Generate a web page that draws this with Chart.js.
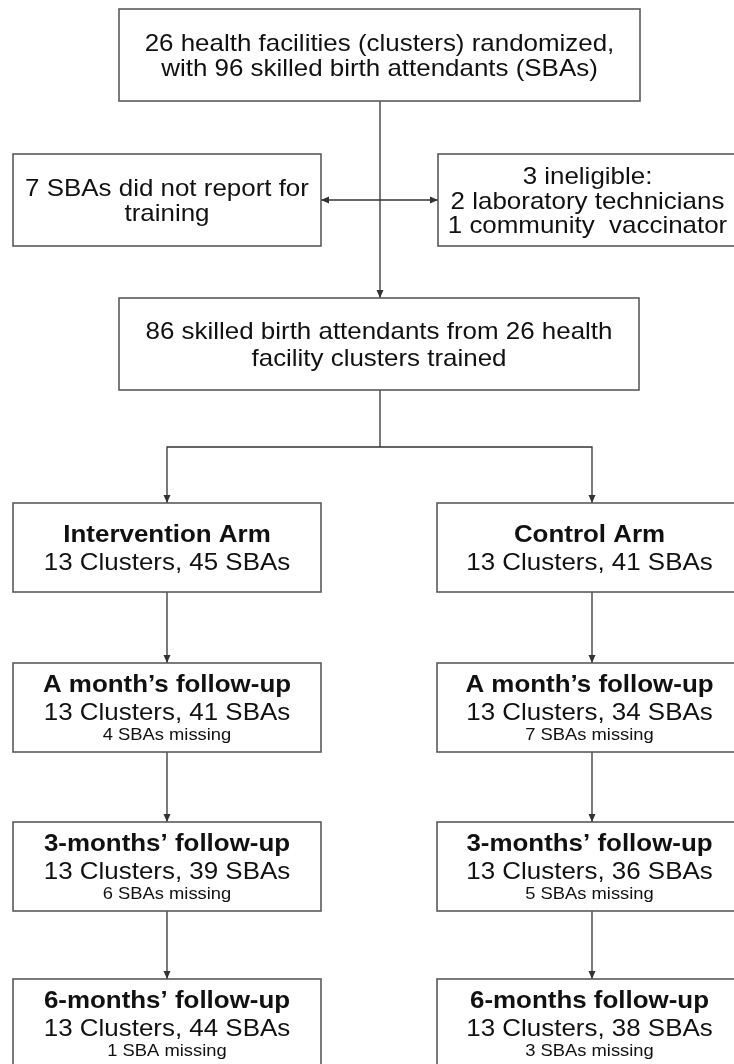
<!DOCTYPE html>
<html>
<head>
<meta charset="utf-8">
<title>Trial flow</title>
<script src="https://cdn.jsdelivr.net/npm/chart.js@4"></script>
<style>
  html, body { margin: 0; padding: 0; background: #ffffff; }
  canvas { display: block; }
</style>
</head>
<body>
<canvas id="flow" width="734" height="1064"></canvas>
<script>
// text of the top part of the flow
const RANDOMIZED_LINES = ["26 health facilities (clusters) randomized,", "with 96 skilled birth attendants (SBAs)"];
const NOT_REPORTED_LINES = ["7 SBAs did not report for", "training"];
const INELIGIBLE_LINES = ["3 ineligible:", "2 laboratory technicians", "1 community  vaccinator"];
const TRAINED_LINES = ["86 skilled birth attendants from 26 health", "facility clusters trained"];

// the two arms, one entry per stage
const INTERVENTION_STAGES = ["Intervention Arm", "A month’s follow-up", "3-months’ follow-up", "6-months’ follow-up"];
const INTERVENTION_CLUSTERS = [13, 13, 13, 13];
const INTERVENTION_SBAS = [45, 41, 39, 44];
const INTERVENTION_MISSING = [null, 4, 6, 1];

const CONTROL_STAGES = ["Control Arm", "A month’s follow-up", "3-months’ follow-up", "6-months follow-up"];
const CONTROL_CLUSTERS = [13, 13, 13, 13];
const CONTROL_SBAS = [41, 34, 36, 38];
const CONTROL_MISSING = [null, 7, 5, 3];

// layout, in page units (same as the scale range)
const BOX_TOP = { x0: 119, x1: 640, y0: 9, y1: 101 };
const BOX_LEFT = { x0: 13, x1: 321, y0: 154, y1: 246 };
const BOX_RIGHT = { x0: 438, x1: 737, y0: 154, y1: 246 };
const BOX_TRAINED = { x0: 119, x1: 639, y0: 298, y1: 390 };
const TRUNK_X = 380;
const SIDE_Y = 200;
const SPLIT_Y = 447;
const ARM_COLUMNS = [{ x0: 13, x1: 321, arrowX: 167 }, { x0: 437, x1: 742, arrowX: 592 }];
const ROW_TOPS = [503, 663, 822, 979];
const ROW_HEIGHT = 89;

const FONT = '"Liberation Sans", Arial, sans-serif';
const STRETCH = 1.08;
const LINE_COLOR = "#333333";
const BOX_COLOR = "#5a5a5a";

function missingLabel(n) {
  return n === 1 ? "1 SBA missing" : `${n} SBAs missing`;
}

function armBoxes(stages, clusters, sbas, missing, column) {
  return stages.map((stage, i) => {
    const lines = [
      { text: stage, size: 24, bold: true },
      { text: `${clusters[i]} Clusters, ${sbas[i]} SBAs`, size: 24, bold: false },
    ];
    if (missing[i] !== null) {
      lines.push({ text: missingLabel(missing[i]), size: 17, bold: false });
    }
    return {
      x0: column.x0,
      x1: column.x1,
      y0: ROW_TOPS[i],
      y1: ROW_TOPS[i] + ROW_HEIGHT,
      lines,
      pitch: [28, 20],
    };
  });
}

function plainLines(texts) {
  return texts.map((text) => ({ text, size: 24, bold: false }));
}

const boxes = [
  { ...BOX_TOP, lines: plainLines(RANDOMIZED_LINES), pitch: [25] },
  { ...BOX_LEFT, lines: plainLines(NOT_REPORTED_LINES), pitch: [25] },
  { ...BOX_RIGHT, lines: plainLines(INELIGIBLE_LINES), pitch: [24.5, 24.5], cx: 587.5 },
  { ...BOX_TRAINED, lines: plainLines(TRAINED_LINES), pitch: [27] },
  ...armBoxes(INTERVENTION_STAGES, INTERVENTION_CLUSTERS, INTERVENTION_SBAS, INTERVENTION_MISSING, ARM_COLUMNS[0]),
  ...armBoxes(CONTROL_STAGES, CONTROL_CLUSTERS, CONTROL_SBAS, CONTROL_MISSING, ARM_COLUMNS[1]),
];

// connector segments and arrow tips, built from the layout
const segments = [
  [{ x: TRUNK_X, y: BOX_TOP.y1 }, { x: TRUNK_X, y: BOX_TRAINED.y0 }],
  [{ x: BOX_LEFT.x1, y: SIDE_Y }, { x: BOX_RIGHT.x0, y: SIDE_Y }],
  [{ x: TRUNK_X, y: BOX_TRAINED.y1 }, { x: TRUNK_X, y: SPLIT_Y }],
  [
    { x: ARM_COLUMNS[0].arrowX, y: ROW_TOPS[0] },
    { x: ARM_COLUMNS[0].arrowX, y: SPLIT_Y },
    { x: ARM_COLUMNS[1].arrowX, y: SPLIT_Y },
    { x: ARM_COLUMNS[1].arrowX, y: ROW_TOPS[0] },
  ],
];
const tips = [
  { x: TRUNK_X, y: BOX_TRAINED.y0, rot: 180 },
  { x: BOX_LEFT.x1, y: SIDE_Y, rot: -90 },
  { x: BOX_RIGHT.x0, y: SIDE_Y, rot: 90 },
  { x: ARM_COLUMNS[0].arrowX, y: ROW_TOPS[0], rot: 180 },
  { x: ARM_COLUMNS[1].arrowX, y: ROW_TOPS[0], rot: 180 },
];
ARM_COLUMNS.forEach((col) => {
  for (let i = 0; i < ROW_TOPS.length - 1; i++) {
    segments.push([{ x: col.arrowX, y: ROW_TOPS[i] + ROW_HEIGHT }, { x: col.arrowX, y: ROW_TOPS[i + 1] }]);
    tips.push({ x: col.arrowX, y: ROW_TOPS[i + 1], rot: 180 });
  }
});

// arrowhead pointing up, tip at the centre of the little canvas
function makeArrowHead() {
  const c = document.createElement("canvas");
  c.width = 20;
  c.height = 20;
  const g = c.getContext("2d");
  g.fillStyle = LINE_COLOR;
  g.beginPath();
  g.moveTo(10, 10);
  g.lineTo(6.5, 18);
  g.lineTo(13.5, 18);
  g.closePath();
  g.fill();
  return c;
}

const boxPlugin = {
  id: "flowBoxes",
  afterDatasetsDraw(chart) {
    const { ctx, scales } = chart;
    const px = (v) => scales.x.getPixelForValue(v);
    const py = (v) => scales.y.getPixelForValue(v);
    ctx.save();
    boxes.forEach((box) => {
      const x0 = px(box.x0);
      const x1 = px(box.x1);
      const y0 = py(box.y0);
      const y1 = py(box.y1);
      ctx.strokeStyle = BOX_COLOR;
      ctx.lineWidth = 1.6;
      ctx.strokeRect(x0, y0, x1 - x0, y1 - y0);

      const cx = box.cx !== undefined ? px(box.cx) : (x0 + x1) / 2;
      const cy = (y0 + y1) / 2;
      let span = 0;
      box.pitch.slice(0, box.lines.length - 1).forEach((p) => (span += p));
      const capTop = box.lines[0].size * 0.72;
      let baseline = cy - (capTop + span) / 2 + capTop;

      ctx.fillStyle = "#111111";
      ctx.textAlign = "center";
      ctx.textBaseline = "alphabetic";
      box.lines.forEach((line, i) => {
        ctx.font = `${line.bold ? "bold " : ""}${line.size}px ${FONT}`;
        ctx.save();
        ctx.translate(cx, baseline);
        ctx.scale(STRETCH, 1);
        ctx.fillText(line.text, 0, 0);
        ctx.restore();
        baseline += box.pitch[i] || 0;
      });
    });
    ctx.restore();
  },
};

const datasets = segments.map((points) => ({
  data: points,
  showLine: true,
  borderColor: LINE_COLOR,
  borderWidth: 1.3,
  pointRadius: 0,
  fill: false,
  tension: 0,
}));
datasets.push({
  data: tips.map((t) => ({ x: t.x, y: t.y })),
  showLine: false,
  pointStyle: makeArrowHead(),
  pointRadius: 5,
  pointRotation: tips.map((t) => t.rot),
});

new Chart(document.getElementById("flow"), {
  type: "scatter",
  data: { datasets },
  options: {
    responsive: false,
    animation: false,
    devicePixelRatio: 1,
    events: [],
    layout: { padding: 0, autoPadding: false },
    plugins: {
      legend: { display: false },
      tooltip: { enabled: false },
    },
    scales: {
      x: { type: "linear", min: 0, max: 734, display: false },
      y: { type: "linear", min: 0, max: 1064, reverse: true, display: false },
    },
  },
  plugins: [boxPlugin],
});
</script>
</body>
</html>
